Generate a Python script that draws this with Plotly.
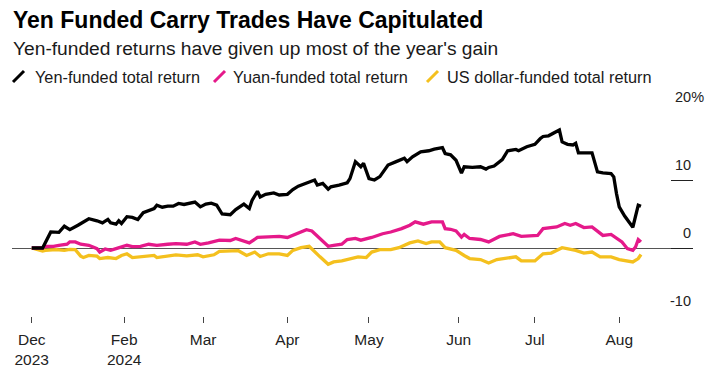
import plotly.graph_objects as go

# ---------------- data ----------------
yen_dates = ["2023-12-29","2024-01-02","2024-01-05","2024-01-08","2024-01-10","2024-01-12","2024-01-15","2024-01-17",
             "2024-01-19","2024-01-22","2024-01-24","2024-01-26","2024-01-27","2024-01-29","2024-01-30","2024-01-31",
             "2024-02-02","2024-02-04","2024-02-06","2024-02-08","2024-02-10","2024-02-12","2024-02-13","2024-02-15",
             "2024-02-17","2024-02-19","2024-02-21","2024-02-23","2024-02-27","2024-02-29","2024-03-02","2024-03-04",
             "2024-03-06","2024-03-08","2024-03-11","2024-03-13","2024-03-16","2024-03-18","2024-03-19","2024-03-21",
             "2024-03-22","2024-03-24","2024-03-27","2024-03-29","2024-04-01","2024-04-03","2024-04-05","2024-04-08",
             "2024-04-09","2024-04-11","2024-04-12","2024-04-14","2024-04-16","2024-04-17","2024-04-20","2024-04-23",
             "2024-04-24","2024-04-26","2024-04-28","2024-04-29","2024-05-01","2024-05-03","2024-05-05","2024-05-08",
             "2024-05-11","2024-05-14","2024-05-15","2024-05-17","2024-05-20","2024-05-23","2024-05-25","2024-05-28",
             "2024-05-29","2024-05-31","2024-06-02","2024-06-04","2024-06-05","2024-06-08","2024-06-11","2024-06-13",
             "2024-06-14","2024-06-16","2024-06-19","2024-06-21","2024-06-24","2024-06-25","2024-06-28","2024-07-01",
             "2024-07-03","2024-07-04","2024-07-06","2024-07-08","2024-07-10","2024-07-11","2024-07-13","2024-07-15",
             "2024-07-16","2024-07-17","2024-07-22","2024-07-24","2024-07-26","2024-07-29","2024-07-30","2024-07-31",
             "2024-08-01","2024-08-03","2024-08-05","2024-08-06","2024-08-08","2024-08-09"]
yen_values = [0.0, 0.0, 2.36, 2.3, 3.2, 2.7, 3.35, 3.8,
              4.3, 4.0, 3.7, 4.2, 3.7, 3.5, 4.0, 3.6,
              4.6, 4.5, 4.2, 5.2, 5.5, 5.8, 6.3, 6.0,
              6.15, 6.15, 6.55, 6.4, 6.75, 6.05, 6.45, 6.6,
              6.3, 5.0, 4.9, 5.65, 6.45, 5.8, 7.0, 8.35,
              7.5, 7.9, 8.1, 7.8, 7.9, 8.6, 9.1, 9.5,
              9.75, 10.0, 9.25, 9.5, 8.65, 9.0, 9.25, 9.6,
              10.2, 12.7, 11.95, 12.45, 10.2, 10.0, 10.5, 12.2,
              12.7, 13.2, 12.7, 13.4, 14.15, 14.3, 14.55, 14.75,
              13.9, 13.7, 12.9, 11.0, 11.95, 11.85, 11.95, 11.6,
              11.85, 12.05, 13.0, 14.3, 14.5, 14.3, 14.9, 15.25,
              16.1, 16.4, 16.5, 16.9, 17.35, 15.6, 15.25, 15.15,
              15.4, 14.0, 14.0, 11.2, 11.05, 10.95, 10.45, 8.0,
              6.05, 4.7, 3.7, 3.05, 6.3, 6.15]

yuan_dates = ["2023-12-29","2024-01-02","2024-01-03","2024-01-06","2024-01-08","2024-01-11","2024-01-12","2024-01-14",
              "2024-01-16","2024-01-19","2024-01-22","2024-01-23","2024-01-25","2024-01-27","2024-01-29","2024-01-31",
              "2024-02-02","2024-02-04","2024-02-07","2024-02-10","2024-02-13","2024-02-17","2024-02-20","2024-02-24",
              "2024-02-27","2024-02-29","2024-03-03","2024-03-07","2024-03-11","2024-03-13","2024-03-18","2024-03-21",
              "2024-03-24","2024-03-29","2024-04-01","2024-04-04","2024-04-08","2024-04-10","2024-04-13","2024-04-15",
              "2024-04-16","2024-04-18","2024-04-21","2024-04-23","2024-04-26","2024-04-28","2024-05-02","2024-05-06",
              "2024-05-09","2024-05-13","2024-05-16","2024-05-18","2024-05-21","2024-05-24","2024-05-28","2024-05-29",
              "2024-05-31","2024-06-02","2024-06-04","2024-06-05","2024-06-07","2024-06-11","2024-06-14","2024-06-18",
              "2024-06-23","2024-06-26","2024-07-02","2024-07-04","2024-07-09","2024-07-12","2024-07-14","2024-07-16",
              "2024-07-19","2024-07-22","2024-07-26","2024-07-29","2024-07-31","2024-08-02","2024-08-04","2024-08-06",
              "2024-08-07","2024-08-08","2024-08-09"]
yuan_values = [0.0, 0.0, 0.25, 0.25, 0.4, 0.55, 0.9, 0.9,
               0.55, 0.4, -0.1, -0.6, -0.15, -0.35, -0.1, 0.2,
               0.4, 0.2, 0.25, 0.55, 0.4, 0.55, 0.65, 0.55,
               0.9, 0.55, 0.75, 1.15, 1.1, 1.4, 0.75, 1.55,
               1.6, 1.7, 1.55, 2.1, 2.7, 2.5, 1.4, 0.65,
               0.25, 0.4, 0.55, 1.25, 1.4, 1.15, 1.55, 2.1,
               2.35, 2.85, 3.35, 3.85, 3.5, 3.85, 3.85, 2.85,
               2.75, 2.5, 1.6, 2.0, 1.4, 1.25, 0.9, 1.7,
               2.1, 1.7, 1.85, 2.85, 3.1, 3.6, 3.35, 3.6,
               3.0, 3.1, 1.85, 2.0, 1.4, 0.9, -0.1, -0.35,
               0.15, 1.25, 0.9]

usd_dates = ["2023-12-29","2024-01-02","2024-01-03","2024-01-07","2024-01-10","2024-01-12","2024-01-14","2024-01-16",
             "2024-01-17","2024-01-19","2024-01-22","2024-01-23","2024-01-26","2024-01-29","2024-01-31","2024-02-02",
             "2024-02-04","2024-02-08","2024-02-12","2024-02-13","2024-02-17","2024-02-20","2024-02-24","2024-02-28",
             "2024-03-01","2024-03-05","2024-03-07","2024-03-11","2024-03-14","2024-03-17","2024-03-20","2024-03-22",
             "2024-03-25","2024-03-29","2024-04-01","2024-04-03","2024-04-06","2024-04-09","2024-04-11","2024-04-13",
             "2024-04-16","2024-04-18","2024-04-21","2024-04-24","2024-04-27","2024-04-30","2024-05-02","2024-05-05",
             "2024-05-09","2024-05-12","2024-05-16","2024-05-19","2024-05-22","2024-05-24","2024-05-27","2024-05-29",
             "2024-05-31","2024-06-02","2024-06-05","2024-06-07","2024-06-11","2024-06-14","2024-06-17","2024-06-20",
             "2024-06-24","2024-06-26","2024-07-01","2024-07-04","2024-07-07","2024-07-11","2024-07-13","2024-07-16",
             "2024-07-19","2024-07-22","2024-07-25","2024-07-29","2024-08-01","2024-08-06","2024-08-08","2024-08-09"]
usd_values = [0.0, -0.45, -0.35, -0.25, -0.35, -0.2, -0.25, -1.2,
              -1.4, -1.1, -1.2, -1.55, -1.4, -1.55, -1.1, -0.85,
              -1.4, -1.2, -1.1, -1.4, -1.2, -1.0, -1.15, -1.0,
              -1.3, -1.0, -0.5, -0.4, -0.4, -1.1, -0.6, -1.25,
              -0.85, -0.85, -1.1, -0.35, 0.05, 0.25, -0.45, -1.3,
              -2.4, -2.05, -1.9, -1.55, -1.3, -1.4, -0.6, -0.25,
              -0.25, 0.05, 0.75, 1.05, 0.65, 0.9, 0.9, 0.05,
              -0.1, -0.35, -1.1, -1.55, -1.7, -2.2, -1.7, -1.55,
              -1.3, -1.9, -1.9, -0.85, -0.75, 0.05, -0.1, -0.35,
              -0.75, -0.6, -1.3, -1.3, -1.7, -2.05, -1.55, -0.95]

series_names = ["Yen-funded total return", "Yuan-funded total return", "US dollar-funded total return"]
series_colors = ["#000000", "#e5198a", "#f4c01e"]

x_tick_dates = ["2023-12-29", "2024-02-01", "2024-03-01", "2024-04-01", "2024-05-01", "2024-06-03", "2024-07-01", "2024-08-01"]
x_tick_labels = ["Dec<br>2023", "Feb<br>2024", "Mar", "Apr", "May", "Jun", "Jul", "Aug"]
y_tick_values = [-10, 0, 10, 20]
y_tick_labels = ["-10", "0", "10", "20%"]

title = "Yen Funded Carry Trades Have Capitulated"
subtitle = "Yen-funded returns have given up most of the year's gain"

# ---------------- layout constants (page pixels; the page body adds an 8px offset) ----------------
PAGE_W, PAGE_H = 718, 375
OFF = 8
W, H = PAGE_W - OFF, PAGE_H - OFF
PLOT_L, PLOT_R, PLOT_T, PLOT_B = 12, 693, 112, 316   # plot area in page pixels
ML, MT = PLOT_L - OFF, PLOT_T - OFF
MR, MB = PAGE_W - PLOT_R, PAGE_H - PLOT_B
PW, PH = PLOT_R - PLOT_L, PLOT_B - PLOT_T
FONT = "Liberation Sans, Arial, sans-serif"


def px_x(px):
    return (px - PLOT_L) / PW


def px_y(py):
    return (PLOT_B - py) / PH


fig = go.Figure()

# draw yellow first, black on top
order = [2, 1, 0]
all_dates = [yen_dates, yuan_dates, usd_dates]
all_values = [yen_values, yuan_values, usd_values]
for i in order:
    fig.add_trace(go.Scatter(
        x=all_dates[i], y=all_values[i], mode="lines", name=series_names[i],
        line=dict(color=series_colors[i], width=3.3), showlegend=False,
        hoverinfo="skip"))

annotations = []
annotations.append(dict(text="<b>" + title + "</b>", xref="paper", yref="paper", x=px_x(11), y=px_y(19.5),
                        xanchor="left", yanchor="middle", showarrow=False,
                        font=dict(family=FONT, size=23, color="#000000")))
annotations.append(dict(text=subtitle, xref="paper", yref="paper", x=px_x(11), y=px_y(48),
                        xanchor="left", yanchor="middle", showarrow=False,
                        font=dict(family=FONT, size=19.2, color="#1a1a1a")))

# custom legend: slanted strokes + text
legend_slash_x = [13, 214, 427]
legend_text_x = [33, 231, 445]
shapes = []
for i in range(3):
    shapes.append(dict(type="line", xref="paper", yref="paper",
                       x0=px_x(legend_slash_x[i]), y0=px_y(82),
                       x1=px_x(legend_slash_x[i] + 11), y1=px_y(71),
                       line=dict(color=series_colors[i], width=3)))
    annotations.append(dict(text=series_names[i], xref="paper", yref="paper",
                            x=px_x(legend_text_x[i]), y=px_y(77), xanchor="left", yanchor="middle",
                            showarrow=False, font=dict(family=FONT, size=16.3, color="#1a1a1a")))

# y tick labels above the right-hand tick lines ("%" hangs past the axis)
for v, lab in zip(y_tick_values, y_tick_labels):
    annotations.append(dict(text=lab, xref="paper", yref="y", x=1, y=v, xanchor="right", yanchor="bottom",
                            xshift=13 if lab.endswith("%") else 0,
                            yshift=5, showarrow=False, font=dict(family=FONT, size=14.5, color="#222222")))

fig.update_layout(
    width=W, height=H,
    margin=dict(l=ML, r=MR, t=MT, b=MB),
    paper_bgcolor="white", plot_bgcolor="white",
    annotations=annotations, shapes=shapes,
    xaxis=dict(
        range=["2023-12-21 18:00", "2024-08-28 03:00"],
        tickmode="array", tickvals=x_tick_dates, ticktext=x_tick_labels,
        ticks="outside", ticklen=6, tickwidth=1, tickcolor="#444444",
        ticklabelstandoff=3,
        showgrid=False, zeroline=False, showline=False,
        tickfont=dict(family=FONT, size=15.5, color="#222222"),
    ),
    yaxis=dict(
        range=[-10, 20], side="right",
        tickmode="array", tickvals=y_tick_values,
        ticks="inside", ticklen=22, tickwidth=1, tickcolor="#222222",
        showticklabels=False, showgrid=False,
        zeroline=True, zerolinecolor="#555555", zerolinewidth=1,
        showline=False,
    ),
)

fig.write_html("out.html")
